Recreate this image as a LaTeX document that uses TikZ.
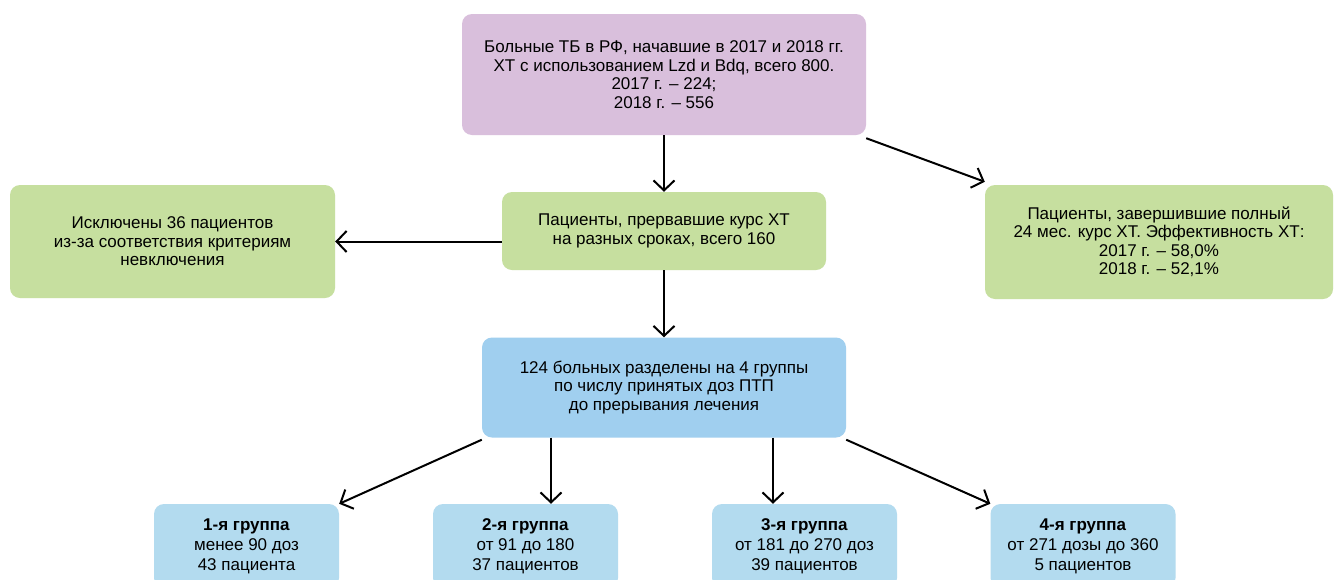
\documentclass[tikz,border=0pt]{standalone}
\usepackage{fontspec}
\setmainfont{Liberation Sans}
\usetikzlibrary{arrows.meta}
\definecolor{cpurple}{HTML}{D9BFDC}
\definecolor{cgreen}{HTML}{C6DF9F}
\definecolor{cblue}{HTML}{A0CFEF}
\definecolor{clblue}{HTML}{B3DBEF}
\tikzset{
  box/.style={rounded corners=10pt, align=center, inner sep=0pt,
    font=\fontsize{17}{18.5}\selectfont, text=black},
  grp/.style={box, fill=clblue, minimum width=185pt, minimum height=84pt,
    font=\fontsize{17}{20}\selectfont},
  conn/.style={line width=2pt, -{Straight Barb[length=10pt,width=21pt,line width=2pt]}}
}
\begin{document}
\begin{tikzpicture}[x=1pt,y=-1pt]
\clip (0,0) rectangle (1336,579);
\fill[white] (0,0) rectangle (1336,579);
\node[box, fill=cpurple, minimum width=404pt, minimum height=121pt] (top) at (664,74.5)
  {Больные ТБ в РФ, начавшие в 2017 и 2018 гг.\\ХТ с использованием Lzd и Bdq, всего 800.\\2017 г. – 224;\\2018 г. – 556};
\node[box, fill=cgreen, minimum width=325pt, minimum height=113pt] (left) at (172.5,241.5)
  {Исключены 36 пациентов\\из-за соответствия критериям\\невключения};
\node[box, fill=cgreen, minimum width=324pt, minimum height=78pt] (mid) at (664,231)
  {Пациенты, прервавшие курс ХТ\\на разных сроках, всего 160};
\node[box, fill=cgreen, minimum width=348pt, minimum height=114pt] (right) at (1159,242)
  {Пациенты, завершившие полный\\24 мес. курс ХТ. Эффективность ХТ:\\2017 г. – 58,0\%\\2018 г. – 52,1\%};
\node[box, fill=cblue, minimum width=364pt, minimum height=100pt] (blue) at (664,387.5)
  {124 больных разделены на 4 группы\\по числу принятых доз ПТП\\до прерывания лечения};
\node[grp] (g1) at (246.5,546) {\textbf{1-я группа}\\менее 90 доз\\43 пациента};
\node[grp] (g2) at (525.5,546) {\textbf{2-я группа}\\от 91 до 180\\37 пациентов};
\node[grp] (g3) at (804.5,546) {\textbf{3-я группа}\\от 181 до 270 доз\\39 пациентов};
\node[grp] (g4) at (1083,546) {\textbf{4-я группа}\\от 271 дозы до 360\\5 пациентов};
\draw[conn] (top.south) -- (mid.north);
\draw[conn] ([yshift=-3pt]top.south east) -- ([yshift=3pt]right.north west);
\draw[conn] (mid.west |- left.east) -- (left.east);
\draw[conn] (mid.south) -- (blue.north);
\draw[conn] ([yshift=-2pt]blue.south west) -- (g1.north east);
\draw[conn] ([xshift=-113pt]blue.south) -- ([xshift=25.5pt]g2.north);
\draw[conn] ([xshift=109pt]blue.south) -- ([xshift=-31.5pt]g3.north);
\draw[conn] ([yshift=-2pt]blue.south east) -- (g4.north west);
\end{tikzpicture}
\end{document}
